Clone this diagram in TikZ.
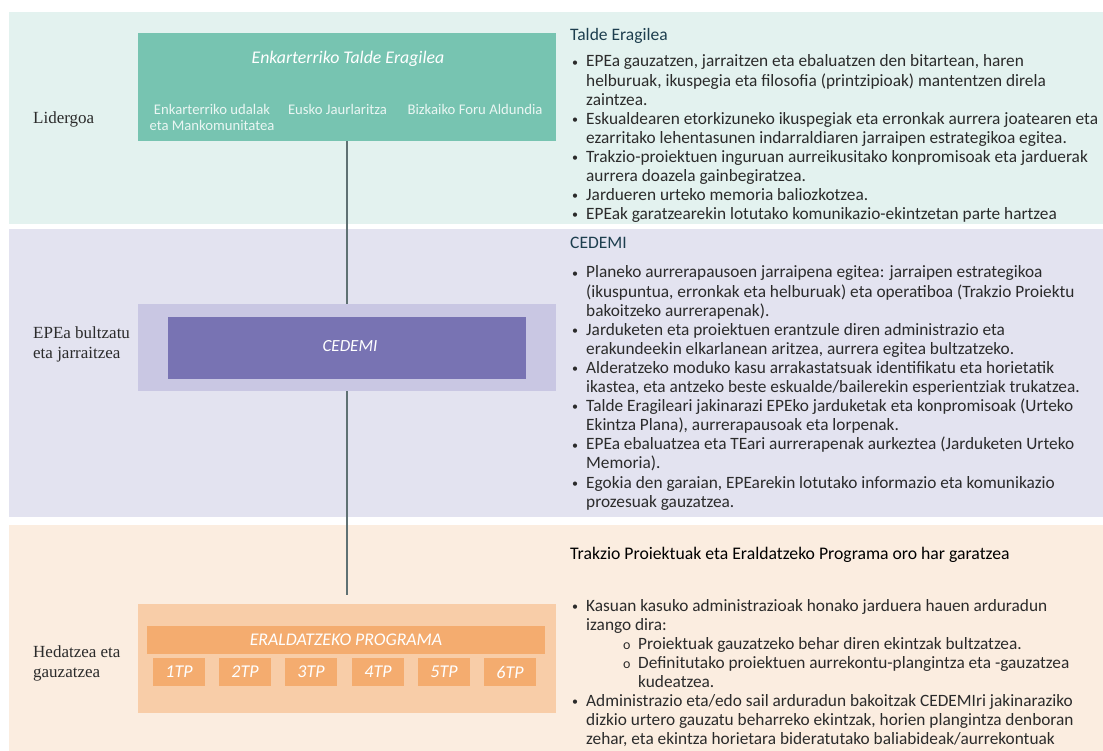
\documentclass[tikz,border=0pt]{standalone}
\usepackage{fontspec}
\setmainfont{Carlito}
\newfontfamily\labelserif{Liberation Serif}
\definecolor{bandA}{HTML}{E3F2EF}
\definecolor{bandB}{HTML}{E3E3F0}
\definecolor{bandC}{HTML}{FBEDE0}
\definecolor{greenbox}{HTML}{77C4B1}
\definecolor{lavout}{HTML}{C9C7E3}
\definecolor{purplebox}{HTML}{7873B3}
\definecolor{peachout}{HTML}{F8CDA8}
\definecolor{orangebox}{HTML}{F4AC6F}
\definecolor{connc}{HTML}{5F7173}
\definecolor{headc}{HTML}{1D3E4E}
\definecolor{bodyc}{HTML}{2B2B2B}
\definecolor{subc}{HTML}{EAF6F3}
\newcommand\mybul{\makebox[14pt][l]{\raisebox{0.8pt}{\fontsize{12}{12}\selectfont\textbullet}}}
\newcommand\myind{\hspace*{14pt}}
\newcommand\mysub{\hspace*{14pt}\makebox[52pt][l]{\hspace*{37pt}{\fontsize{14}{14}\selectfont o}}}
\newcommand\mysubind{\hspace*{66pt}}
\newcommand\bodyfont{\fontsize{17.3}{19.1}\selectfont\color{bodyc}}
\begin{document}
\begin{tikzpicture}[x=1pt,y=-1pt,
  box/.style={inner sep=0, outer sep=0, draw=none},
  conn/.style={draw=connc, line width=1.1pt},
  lefttext/.style={anchor=base west, inner sep=0, font=\labelserif\fontsize{17}{20}\selectfont, text=bodyc, align=left},
  headtext/.style={anchor=base west, inner sep=0, font=\fontsize{17.5}{19}\selectfont},
  bodytext/.style={anchor=base west, inner sep=0},
  subtext/.style={anchor=base, inner sep=0, text=subc, font=\fontsize{14.7}{16}\selectfont, align=center},
  tpbox/.style={box, fill=orangebox, minimum width=52pt, minimum height=28pt, text=white, font=\itshape\fontsize{18}{19}\selectfont}]
\useasboundingbox (0,0) rectangle (1103,751);
% bands
\fill[bandA] (9,12) rectangle (1103,224);
\fill[bandB] (9,229) rectangle (1103,517);
\fill[bandC] (9,525) rectangle (1103,751);
% left labels
\node[lefttext] (l1) at (33,124) {Lidergoa};
\node[lefttext, anchor=north west] (l2) at (33,327) {EPEa bultzatu\\eta jarraitzea};
\node[lefttext, anchor=north west] (l3) at (33,646) {Hedatzea eta\\gauzatzea};
% green box
\node[box, fill=greenbox, minimum width=418pt, minimum height=108pt] (tel) at (347,87) {};
\node[anchor=base, inner sep=0, text=white, font=\itshape\fontsize{17.8}{19}\selectfont] (telt) at (348,64) {Enkarterriko Talde Eragilea};
\node[subtext] (s1) at (212,131) {Enkarterriko udalak\\eta Mankomunitatea};
\node[subtext] (s2) at (337.5,115) {Eusko Jaurlaritza};
\node[subtext] (s3) at (475,115) {Bizkaiko Foru Aldundia};
% CEDEMI
\node[box, fill=lavout, minimum width=418pt, minimum height=87pt] (lav) at (347,347.5) {};
\node[box, fill=purplebox, minimum width=358pt, minimum height=62pt] (ced) at (347,348) {};
\node[anchor=base, inner sep=0, text=white, font=\itshape\fontsize{17}{19}\selectfont] (cedt) at (350,351) {CEDEMI};
% program
\node[box, fill=peachout, minimum width=418pt, minimum height=109pt] (peach) at (347,658.5) {};
\node[box, fill=orangebox, minimum width=398pt, minimum height=28pt, text=white, font=\itshape\fontsize{17.8}{19}\selectfont] (prog) at (346,640) {ERALDATZEKO PROGRAMA};
\node[tpbox] (tp1) at (179,672) {1TP};
\node[tpbox] (tp2) at (245,672) {2TP};
\node[tpbox] (tp3) at (311,672) {3TP};
\node[tpbox] (tp4) at (378,672) {4TP};
\node[tpbox] (tp5) at (444,672) {5TP};
\node[tpbox] (tp6) at (510,672) {6TP};
% connectors
\coordinate (lineend) at (347,595);
\draw[conn] (tel.south) -- (lav.north);
\draw[conn] (lav.south) -- (lineend);
% right texts
\node[headtext, text=headc] (h1) at (570,41) {Talde Eragilea};
\node[bodytext] (b1) at (572,67) {\bodyfont\begin{tabular}[t]{@{}l@{}}
\mybul EPEa gauzatzen, jarraitzen eta ebaluatzen den bitartean, haren\\
\myind helburuak, ikuspegia eta filosofia (printzipioak) mantentzen direla\\
\myind zaintzea.\\
\mybul Eskualdearen etorkizuneko ikuspegiak eta erronkak aurrera joatearen eta\\
\myind ezarritako lehentasunen indarraldiaren jarraipen estrategikoa egitea.\\
\mybul Trakzio-proiektuen inguruan aurreikusitako konpromisoak eta jarduerak\\
\myind aurrera doazela gainbegiratzea.\\
\mybul Jardueren urteko memoria baliozkotzea.\\
\mybul EPEak garatzearekin lotutako komunikazio-ekintzetan parte hartzea
\end{tabular}};
\node[headtext, text=headc] (h2) at (570,249) {CEDEMI};
\node[bodytext] (b2) at (572,278) {\bodyfont\begin{tabular}[t]{@{}l@{}}
\mybul Planeko aurrerapausoen jarraipena egitea: jarraipen estrategikoa\\
\myind (ikuspuntua, erronkak eta helburuak) eta operatiboa (Trakzio Proiektu\\
\myind bakoitzeko aurrerapenak).\\
\mybul Jarduketen eta proiektuen erantzule diren administrazio eta\\
\myind erakundeekin elkarlanean aritzea, aurrera egitea bultzatzeko.\\
\mybul Alderatzeko moduko kasu arrakastatsuak identifikatu eta horietatik\\
\myind ikastea, eta antzeko beste eskualde/bailerekin esperientziak trukatzea.\\
\mybul Talde Eragileari jakinarazi EPEko jarduketak eta konpromisoak (Urteko\\
\myind Ekintza Plana), aurrerapausoak eta lorpenak.\\
\mybul EPEa ebaluatzea eta TEari aurrerapenak aurkeztea (Jarduketen Urteko\\
\myind Memoria).\\
\mybul Egokia den garaian, EPEarekin lotutako informazio eta komunikazio\\
\myind prozesuak gauzatzea.
\end{tabular}};
\node[headtext, text=black, font=\fontsize{17.7}{19}\selectfont] (h3) at (570,559) {Trakzio Proiektuak eta Eraldatzeko Programa oro har garatzea};
\node[bodytext] (b3) at (572,611) {\bodyfont\begin{tabular}[t]{@{}l@{}}
\mybul Kasuan kasuko administrazioak honako jarduera hauen arduradun\\
\myind izango dira:\\
\mysub Proiektuak gauzatzeko behar diren ekintzak bultzatzea.\\
\mysub Definitutako proiektuen aurrekontu-plangintza eta -gauzatzea\\
\mysubind kudeatzea.\\
\mybul Administrazio eta/edo sail arduradun bakoitzak CEDEMIri jakinaraziko\\
\myind dizkio urtero gauzatu beharreko ekintzak, horien plangintza denboran\\
\myind zehar, eta ekintza horietara bideratutako baliabideak/aurrekontuak
\end{tabular}};
\end{tikzpicture}
\end{document}
